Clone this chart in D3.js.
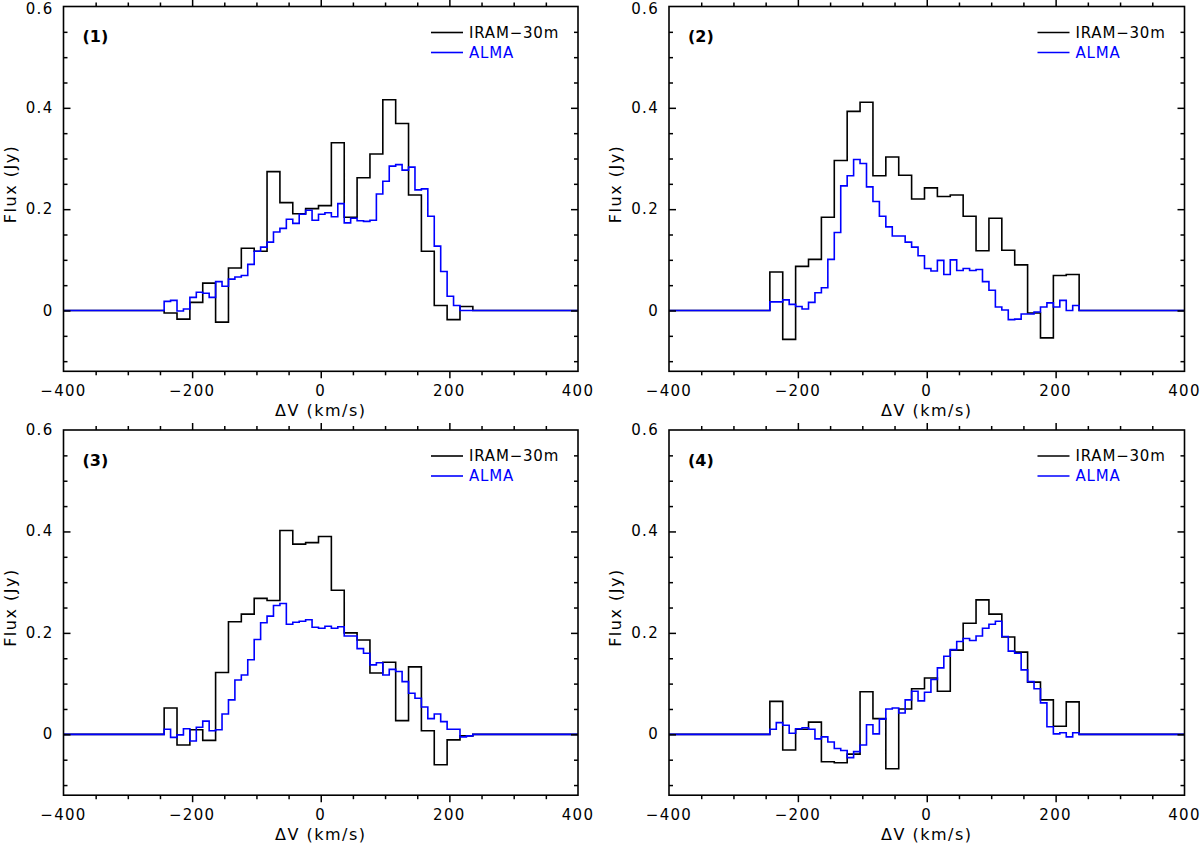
<!DOCTYPE html>
<html>
<head>
<meta charset="utf-8">
<script src="https://cdn.jsdelivr.net/npm/d3@7/dist/d3.min.js"></script>
<style>
html,body{margin:0;padding:0;background:#fff;}
svg{display:block;}
text{font-family:"DejaVu Sans",sans-serif;}
</style>
</head>
<body>
<svg id="chart" width="1200" height="843"></svg>
<script>
// ---- Data ----
const xTicksMajor = [-400, -200, 0, 200, 400];
const xTickLabels = ["\u2212400", "\u2212200", "0", "200", "400"];
const yTicksMajor = [0, 0.2, 0.4, 0.6];
const yTickLabels = ["0", "0.2", "0.4", "0.6"];
const panelLabels = ["(1)", "(2)", "(3)", "(4)"];
const seriesNames = ["IRAM\u221230m", "ALMA"];

// channel edges (km/s)
const edgesIRAM = [-243.5,-223.5,-203.5,-183.5,-163.5,-143.5,-123.5,-103.5,-83.5,-63.5,-43.5,-23.5,-3.5,16.5,36.5,56.5,76.5,96.5,116.5,136.5,156.5,176.5,196.5,216.5,236.5];
const edgesALMA = [-243.5,-233.5,-223.5,-213.5,-203.5,-193.5,-183.5,-173.5,-163.5,-153.5,-143.5,-133.5,-123.5,-113.5,-103.5,-93.5,-83.5,-73.5,-63.5,-53.5,-43.5,-33.5,-23.5,-13.5,-3.5,6.5,16.5,26.5,36.5,46.5,56.5,66.5,76.5,86.5,96.5,106.5,116.5,126.5,136.5,146.5,156.5,166.5,176.5,186.5,196.5,206.5,216.5,226.5,236.5];

const iram1 = [-0.005,-0.017,0.016,0.054,-0.023,0.084,0.123,0.117,0.274,0.213,0.191,0.201,0.207,0.331,0.184,0.262,0.309,0.416,0.369,0.228,0.117,0.010,-0.018,0.008];
const alma1 = [0.018,0.020,-0.001,0.003,0.026,0.036,0.034,0.026,0.057,0.048,0.062,0.066,0.069,0.091,0.117,0.125,0.135,0.155,0.162,0.180,0.172,0.190,0.198,0.178,0.190,0.193,0.185,0.211,0.173,0.182,0.177,0.176,0.178,0.230,0.255,0.285,0.288,0.277,0.283,0.238,0.240,0.186,0.127,0.077,0.028,0.010,0.000,0.000];

const iram2 = [0.076,-0.057,0.087,0.101,0.184,0.296,0.393,0.411,0.266,0.303,0.267,0.220,0.242,0.225,0.228,0.186,0.118,0.182,0.119,0.090,-0.005,-0.054,0.069,0.071];
const alma2 = [0.017,0.017,0.021,0.012,0.008,0.003,0.016,0.035,0.045,0.101,0.154,0.246,0.266,0.298,0.290,0.244,0.215,0.186,0.165,0.147,0.147,0.135,0.125,0.108,0.083,0.078,0.099,0.071,0.100,0.079,0.083,0.079,0.081,0.057,0.040,0.007,0.001,-0.018,-0.017,-0.007,-0.007,-0.003,0.007,0.015,0.007,0.020,0.000,0.010];

const iram3 = [0.052,-0.021,0.009,-0.012,0.122,0.222,0.237,0.268,0.264,0.402,0.375,0.378,0.390,0.284,0.200,0.186,0.121,0.142,0.027,0.133,0.007,-0.060,-0.011,-0.003];
const alma3 = [0.010,-0.006,-0.001,0.011,-0.013,0.014,0.026,0.007,0.009,0.040,0.068,0.107,0.117,0.147,0.187,0.220,0.233,0.254,0.258,0.217,0.221,0.223,0.226,0.211,0.209,0.213,0.209,0.212,0.194,0.194,0.169,0.160,0.137,0.141,0.117,0.128,0.124,0.104,0.081,0.071,0.054,0.031,0.040,0.025,0.010,0.010,-0.005,-0.003];

const iram4 = [0.065,-0.031,0.010,0.024,-0.054,-0.056,-0.039,0.084,0.031,-0.068,0.050,0.090,0.111,0.085,0.166,0.219,0.265,0.237,0.192,0.162,0.103,0.068,0.016,0.064];
const alma4 = [0.010,0.023,0.018,0.002,0.011,0.013,0.010,-0.009,-0.005,-0.015,-0.028,-0.032,-0.046,-0.034,-0.021,0.019,0.001,0.030,0.050,0.052,0.042,0.068,0.085,0.066,0.083,0.108,0.131,0.154,0.167,0.183,0.189,0.185,0.194,0.209,0.217,0.223,0.193,0.164,0.160,0.127,0.104,0.090,0.062,0.015,0.001,0.003,-0.005,0.003];

const iramSeries = [iram1, iram2, iram3, iram4];
const almaSeries = [alma1, alma2, alma3, alma4];

// ---- Layout ----
const cols = [[63.5, 578], [669, 1184.5]];
const rows = [[371.3, 6.5], [795.2, 430]];
const xDomain = [-400, 400];
const yDomain = [-0.12, 0.6];

const svg = d3.select("#chart");
svg.append("rect").attr("width", 1200).attr("height", 843).attr("fill", "#fff");

function stepPoints(edges, vals) {
  const pts = [[xDomain[0], 0]];
  vals.forEach((v, i) => pts.push([edges[i], v]));
  pts.push([edges[edges.length - 1], 0]);
  pts.push([xDomain[1], 0]);
  return pts;
}

for (let p = 0; p < 4; p++) {
  const c = cols[p % 2], r = rows[Math.floor(p / 2)];
  const x = d3.scaleLinear().domain(xDomain).range(c);
  const y = d3.scaleLinear().domain(yDomain).range(r);
  const g = svg.append("g");
  const left = c[0], right = c[1], top = r[1], bottom = r[0];

  // data
  const line = d3.line().x(d => x(d[0])).y(d => y(d[1])).curve(d3.curveStepAfter);
  g.append("path").datum(stepPoints(edgesIRAM, iramSeries[p]))
    .attr("d", line).attr("fill", "none").attr("stroke", "#000").attr("stroke-width", 1.6);
  g.append("path").datum(stepPoints(edgesALMA, almaSeries[p]))
    .attr("d", line).attr("fill", "none").attr("stroke", "#0000ff").attr("stroke-width", 1.6);

  // axes (inward ticks on all four sides)
  const xMinor = d3.range(-400, 401, 50).filter(v => !xTicksMajor.includes(v));
  const yMinor = [-0.1, -0.05, 0.05, 0.1, 0.15, 0.25, 0.3, 0.35, 0.45, 0.5, 0.55];
  const axStyle = a => a.call(s => s.select(".domain").remove())
                        .call(s => s.selectAll("line").attr("stroke", "#000").attr("stroke-width", 1.5))
                        .call(s => s.selectAll("text").remove());

  [["bottom", bottom, -1], ["top", top, 1]].forEach(([side, yy, dir]) => {
    const mk = (ticks, len) => {
      const ax = (side === "bottom" ? d3.axisBottom(x) : d3.axisTop(x)).tickValues(ticks).tickSize(len * dir * (side === "bottom" ? 1 : -1));
      g.append("g").attr("transform", `translate(0,${yy})`).call(ax).call(axStyle);
    };
    mk(xTicksMajor.slice(1, -1), -7);
    mk(xMinor, -4);
  });
  [["left", left], ["right", right]].forEach(([side, xx]) => {
    const mk = (ticks, len) => {
      const ax = (side === "left" ? d3.axisLeft(y) : d3.axisRight(y)).tickValues(ticks).tickSize(-len);
      g.append("g").attr("transform", `translate(${xx},0)`).call(ax).call(axStyle);
    };
    mk(yTicksMajor.slice(0, -1), 7);
    mk(yMinor, 4);
  });

  // frame
  g.append("rect").attr("x", left).attr("y", top).attr("width", right - left).attr("height", bottom - top)
    .attr("fill", "none").attr("stroke", "#000").attr("stroke-width", 1.6);

  // tick labels
  g.selectAll(".xl").data(xTicksMajor).enter().append("text")
    .attr("x", d => x(d)).attr("y", bottom + 19.5).attr("text-anchor", "middle")
    .attr("dominant-baseline", "central").attr("font-size", 15).attr("letter-spacing", "1.3px")
    .text((d, i) => xTickLabels[i]);
  g.selectAll(".yl").data(yTicksMajor).enter().append("text")
    .attr("x", left - 10).attr("y", d => Math.max(y(d), 8.5)).attr("text-anchor", "end")
    .attr("dominant-baseline", "central").attr("font-size", 15).attr("letter-spacing", "1.3px")
    .text((d, i) => yTickLabels[i]);

  // axis titles
  g.append("text").attr("x", (left + right) / 2).attr("y", bottom + 39.5)
    .attr("text-anchor", "middle").attr("dominant-baseline", "central")
    .attr("font-size", 16).attr("letter-spacing", "1.5px").text("\u0394V (km/s)");
  const fy = (top + bottom) / 2 - 5;
  g.append("text").attr("transform", `translate(${left - 53.5},${fy}) rotate(-90)`)
    .attr("text-anchor", "middle").attr("dominant-baseline", "central")
    .attr("font-size", 16).attr("letter-spacing", "1.5px").text("Flux (Jy)");

  // panel label
  g.append("text").attr("x", left + 19).attr("y", top + 30)
    .attr("dominant-baseline", "central").attr("font-size", 16).attr("font-weight", "bold")
    .text(panelLabels[p]);

  // legend
  const lx0 = right - 147, lx1 = right - 115, tx = right - 109;
  const colors = ["#000", "#0000ff"];
  [26, 46].forEach((dy, i) => {
    g.append("line").attr("x1", lx0).attr("x2", lx1).attr("y1", top + dy).attr("y2", top + dy)
      .attr("stroke", colors[i]).attr("stroke-width", 1.6);
    g.append("text").attr("x", tx).attr("y", top + dy).attr("dominant-baseline", "central")
      .attr("font-size", 15).attr("letter-spacing", "0.8px").attr("fill", colors[i]).text(seriesNames[i]);
  });
}
</script>
</body>
</html>
